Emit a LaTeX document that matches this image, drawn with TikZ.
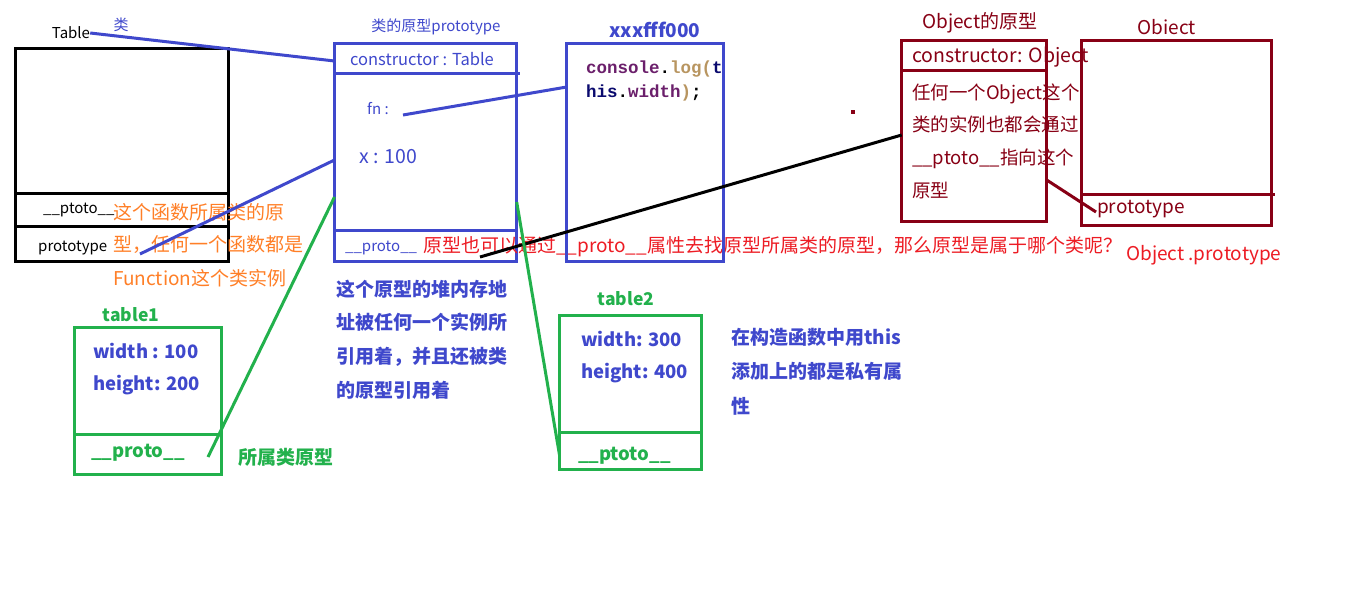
\documentclass[tikz,border=0pt]{standalone}
\usepackage{fontspec}
\setmainfont{Noto Sans CJK SC}
\newfontfamily\codefont{Liberation Mono}
\usetikzlibrary{positioning}
\definecolor{indigo}{HTML}{3F48CC}
\definecolor{pgreen}{HTML}{22B14C}
\definecolor{dkred}{HTML}{880015}
\definecolor{pred}{HTML}{ED1C24}
\definecolor{porange}{HTML}{FF7F27}
\definecolor{codepurple}{HTML}{6B1F6B}
\definecolor{codetan}{HTML}{B89560}
\definecolor{codenavy}{HTML}{0A0A6E}

\newcommand{\fsmall}{\fontsize{15}{18}\selectfont}
\newcommand{\fmid}{\fontsize{17.5}{21}\selectfont}
\newcommand{\fbig}{\fontsize{19}{23}\selectfont}

\begin{document}
\begin{tikzpicture}[
  x=1pt, y=-1pt,
  frame/.style={draw=#1, line width=3pt, anchor=north west, inner sep=0pt, outer sep=0pt},
  sep/.style={draw=#1, line width=3pt},
  link/.style={draw=#1, line width=3pt},
  txt/.style={inner sep=0pt, text=#1},
]

% Background
\fill[white] (0,0) rectangle (1360,591);
\useasboundingbox (0,0) rectangle (1360,591);

% =============================================
% Class Table
% =============================================
\node[frame=black, minimum width=213.5pt, minimum height=213pt] (tabbox) at (15,48.5) {};
\draw[sep=black] (tabbox.west |- 0,193.5) -- (tabbox.east |- 0,193.5);
\draw[sep=black] (tabbox.west |- 0,226.5) -- (tabbox.east |- 0,226.5);

\node[txt=black, font=\fsmall] (tabname) at (71,33) {Table};
\node[txt=indigo, font=\fsmall] (tabcls) at (121,25) {类};
\node[txt=black, font=\fsmall, anchor=west] (tabptoto) at (43,210) {\_\_ptoto\_\_};
\node[txt=porange, font=\fbig, anchor=west] (note1a) at (113,212) {这个函数所属类的原};
\node[txt=black, font=\fsmall, anchor=west] (tabproto) at (38,248) {prototype};
\node[txt=porange, font=\fbig, anchor=west] (note1b) at (113,245) {型，任何一个函数都是};
\node[txt=porange, font=\fbig, anchor=west] (note1c) at (113,278) {Function这个类实例};

% =============================================
% Prototype of Table
% =============================================
\node[frame=indigo, minimum width=182.2pt, minimum height=218.2pt] (protobox) at (334.5,43.3) {};
\draw[sep=indigo] (protobox.west |- 0,73.3) -- (520,73.3);
\draw[sep=indigo] (protobox.west |- 0,230) -- (protobox.east |- 0,230);

\node[txt=indigo, font=\fsmall] (protottl) at (436,27) {类的原型prototype};
\node[txt=indigo, font=\fontsize{16.5}{19}\selectfont] (ctor) at (422,59) {constructor : Table};
\node[txt=indigo, font=\fsmall, anchor=west] (fnkey) at (367,109) {fn :};
\node[txt=indigo, font=\fontsize{19.5}{23}\selectfont, anchor=west] (xkey) at (359,157) {x : 100};
\node[txt=indigo, font=\fsmall, anchor=west] (protoptr) at (345,248) {\_\_proto\_\_};
\node[txt=pred, font=\fbig, anchor=west] (note2) at (423,247)
  {原型也可以通过\_\_proto\_\_属性去找原型所属类的原型，那么原型是属于哪个类呢？};

\node[txt=indigo, font=\fbig\bfseries, align=left, anchor=west] (heapnote) at (336,339.5)
  {这个原型的堆内存地\\[10.7pt]址被任何一个实例所\\[10.7pt]引用着，并且还被类\\[10.7pt]的原型引用着};

% =============================================
% Function body
% =============================================
\node[frame=indigo, minimum width=156.6pt, minimum height=218.2pt] (fnbox) at (566.7,43.3) {};
\node[txt=indigo, font=\fbig\bfseries] (fnaddr) at (655,30) {xxxfff000};
\node[inner sep=0pt, anchor=west, font=\codefont\bfseries\fontsize{17.5}{20}\selectfont] (code1) at (586,69)
  {\textcolor{codepurple}{console}.\textcolor{codetan}{log(}\textcolor{codenavy}{t}};
\node[inner sep=0pt, anchor=west, font=\codefont\bfseries\fontsize{17.5}{20}\selectfont] (code2) at (586,93)
  {\textcolor{codenavy}{his}.\textcolor{codepurple}{width}\textcolor{codetan}{)};};

% =============================================
% Object prototype and Object
% =============================================
\node[frame=dkred, minimum width=145pt, minimum height=180.7pt] (objprobox) at (901.7,41) {};
\draw[sep=dkred] (objprobox.west |- 0,71) -- (objprobox.east |- 0,71);
\node[txt=dkred, font=\fbig] (objprottl) at (980,23) {Object的原型};
\node[txt=dkred, font=\fontsize{19.5}{23}\selectfont, anchor=west] (objctor) at (912,57) {constructor: Object};
\node[txt=dkred, font=\fontsize{18.5}{22}\selectfont, align=left, anchor=west] (objnote) at (912,141)
  {任何一个Object这个\\[10.7pt]类的实例也都会通过\\[10.7pt]\_\_ptoto\_\_指向这个\\[10.7pt]原型};

\node[frame=dkred, minimum width=189.3pt, minimum height=184pt] (objbox) at (1081.7,41) {};
\draw[sep=dkred] (objbox.west |- 0,194.3) -- (1275,194.3);
\node[txt=dkred, font=\fbig] (objttl) at (1167,27) {Obiect};
\node[txt=dkred, font=\fbig, anchor=west] (objproto) at (1097,209) {prototype};
\node[txt=pred, font=\fbig, anchor=west] (objnote2) at (1126,255) {Object .prototype};

\fill[dkred] (851,110) rectangle (855,114);

% =============================================
% Instances table1 and table2
% =============================================
\node[frame=pgreen, minimum width=147.4pt, minimum height=147pt] (t1box) at (74.3,327.3) {};
\draw[sep=pgreen] (t1box.west |- 0,434.3) -- (t1box.east |- 0,434.3);
\node[txt=pgreen, font=\fmid\bfseries] (t1name) at (131,315) {table1};
\node[txt=indigo, font=\fontsize{18.5}{22}\selectfont\bfseries, anchor=west] (t1w) at (93,351) {width : 100};
\node[txt=indigo, font=\fontsize{18.5}{22}\selectfont\bfseries, anchor=west] (t1h) at (93,385) {height: 200};
\node[txt=pgreen, font=\fontsize{18.5}{22}\selectfont\bfseries, anchor=west] (t1ptr) at (91,453) {\_\_proto\_\_};
\node[txt=pgreen, font=\fbig\bfseries, anchor=west] (t1note) at (238,457) {所属类原型};

\node[frame=pgreen, minimum width=142pt, minimum height=154pt] (t2box) at (559.5,315.5) {};
\draw[sep=pgreen] (t2box.west |- 0,432) -- (t2box.east |- 0,432);
\node[txt=pgreen, font=\fmid\bfseries] (t2name) at (626,299) {table2};
\node[txt=indigo, font=\fontsize{18.5}{22}\selectfont\bfseries, anchor=west] (t2w) at (581,339) {width: 300};
\node[txt=indigo, font=\fontsize{18.5}{22}\selectfont\bfseries, anchor=west] (t2h) at (581,373) {height: 400};
\node[txt=pgreen, font=\fontsize{18.5}{22}\selectfont\bfseries, anchor=west] (t2ptr) at (578,456) {\_\_ptoto\_\_};
\node[txt=indigo, font=\fbig\bfseries, align=left, anchor=west] (thisnote) at (731,371.5)
  {在构造函数中用this\\[11.5pt]添加上的都是私有属\\[11.5pt]性};

% =============================================
% Connectors
% =============================================
\coordinate (protoC) at (protobox.west |- 0,61);
\coordinate (protoX) at (protobox.west |- 0,160);
\coordinate (protoG) at (protobox.west |- 0,197);
\coordinate (protoR) at (protobox.east |- 0,202);
\coordinate (tabP) at (140,254);
\coordinate (fnEnd) at (403,115);
\coordinate (fnL) at (fnbox.west |- 0,87);
\coordinate (ptrEnd) at (480,257);
\coordinate (objL) at (objprobox.west |- 0,135);
\coordinate (t1End) at (208,457);
\coordinate (t2End) at (t2box.west |- 0,455);
\coordinate (objR) at (objprobox.east |- 0,180);
\coordinate (objP) at (1096,212);

\draw[link=indigo] (tabname.east) -- (protoC);
\draw[link=indigo] (protoX) -- (tabP);
\draw[link=indigo] (fnEnd) -- (fnL);
\draw[link=black] (ptrEnd) -- (objL);
\draw[link=pgreen] (t1End) -- (protoG);
\draw[link=pgreen] (protoR) -- (t2End);
\draw[link=dkred] (objR) -- (objP);

\end{tikzpicture}
\end{document}
